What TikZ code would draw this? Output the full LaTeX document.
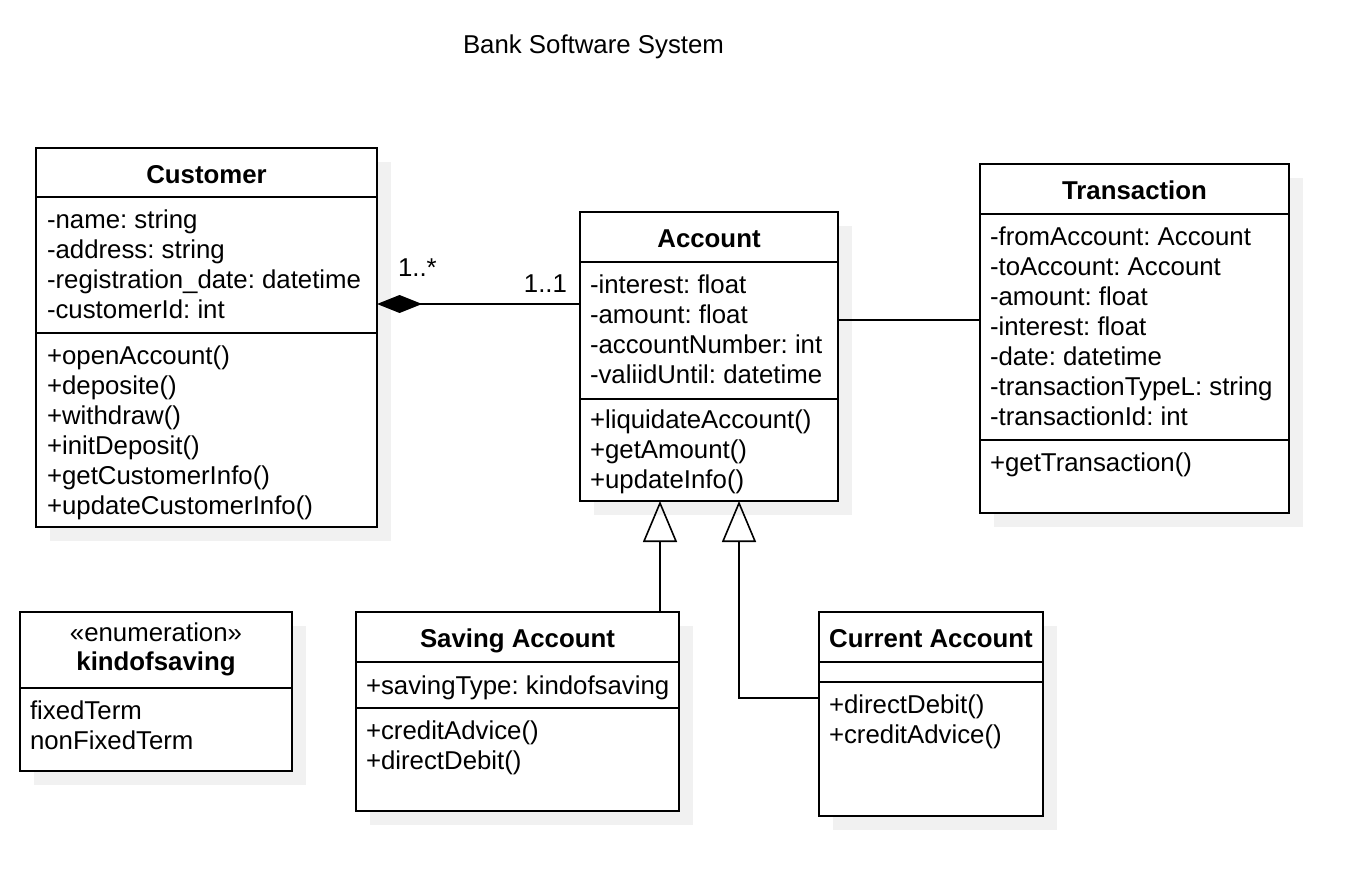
\documentclass[tikz,border=0pt]{standalone}
\usepackage{fontspec}
\setmainfont{Liberation Sans}
\usetikzlibrary{arrows.meta,shadows}
\definecolor{shadowgray}{HTML}{F1F1F1}
\frenchspacing
\begin{document}
\frenchspacing
\begin{tikzpicture}[x=1pt,y=-1pt,
  every node/.style={font=\fontsize{25.8}{30}\selectfont\frenchspacing, inner sep=0pt, outer sep=0pt},
  cls/.style={draw, line width=1.6pt, fill=white, rectangle, anchor=north west,
    drop shadow={shadow xshift=14pt, shadow yshift=-14pt, fill=shadowgray, opacity=1}},
  txt/.style={yshift=-1.5pt},
  hdr/.style={txt, anchor=base, font=\fontsize{25.8}{30}\selectfont\bfseries},
  item/.style={txt, anchor=base west},
  div/.style={line width=1.6pt},
  conn/.style={line width=1.6pt},
  gen/.style={conn, -{Triangle[open, length=41pt, width=34pt]}},
  comp/.style={conn, {Diamond[length=45pt, width=18pt]}-}]
\fill[white] (0,0) rectangle (1368,896);
\useasboundingbox (0,0) rectangle (1368,896);

% title
\node[txt, anchor=base] (title) at (593.5,52) {Bank Software System};

% Customer
\node[cls, minimum width=341pt, minimum height=379pt] (cust) at (36,148) {};
\draw[div] (36,197) -- (377,197);
\draw[div] (36,333) -- (377,333);
\node[hdr] (custH) at (206.5,182) {Customer};
\foreach \t [count=\i from 0] in {{-name: string},{-address: string},{-registration\_date: datetime},{-customerId: int}}
  \node[item] (custA\i) at (47,{227+30*\i}) {\t};
\foreach \t [count=\i from 0] in {{+openAccount()},{+deposite()},{+withdraw()},{+initDeposit()},{+getCustomerInfo()},{+updateCustomerInfo()}}
  \node[item] (custM\i) at (47,{363+30*\i}) {\t};

% Account
\node[cls, minimum width=258pt, minimum height=289pt] (acc) at (580,212) {};
\draw[div] (580,262) -- (838,262);
\draw[div] (580,399) -- (838,399);
\node[hdr] (accH) at (709,246) {Account};
\foreach \t [count=\i from 0] in {{-interest: float},{-amount: float},{-accountNumber: int},{-valiidUntil: datetime}}
  \node[item] (accA\i) at (590,{292+30*\i}) {\t};
\foreach \t [count=\i from 0] in {{+liquidateAccount()},{+getAmount()},{+updateInfo()}}
  \node[item] (accM\i) at (590,{427+30*\i}) {\t};

% Transaction
\node[cls, minimum width=309pt, minimum height=349pt] (tr) at (980,164) {};
\draw[div] (980,214) -- (1289,214);
\draw[div] (980,440) -- (1289,440);
\node[hdr] (trH) at (1134.5,198) {Transaction};
\foreach \t [count=\i from 0] in {{-fromAccount: Account},{-toAccount: Account},{-amount: float},{-interest: float},{-date: datetime},{-transactionTypeL: string},{-transactionId: int}}
  \node[item] (trA\i) at (990,{244+30*\i}) {\t};
\node[item] (trM0) at (990,470) {+getTransaction()};

% kindofsaving
\node[cls, minimum width=272pt, minimum height=159pt] (kind) at (20,612) {};
\draw[div] (20,688) -- (292,688);
\node[txt, anchor=base] (kindS) at (156,640) {«enumeration»};
\node[hdr] (kindH) at (156,669) {kindofsaving};
\node[item] (kindA0) at (30,718) {fixedTerm};
\node[item] (kindA1) at (30,748) {nonFixedTerm};

% Saving Account
\node[cls, minimum width=323pt, minimum height=199pt] (sav) at (356,612) {};
\draw[div] (356,662) -- (679,662);
\draw[div] (356,708) -- (679,708);
\node[hdr] (savH) at (517.5,646) {Saving Account};
\node[item] (savA0) at (366,693) {+savingType: kindofsaving};
\node[item] (savM0) at (366,738) {+creditAdvice()};
\node[item] (savM1) at (366,768) {+directDebit()};

% Current Account
\node[cls, minimum width=224pt, minimum height=204pt] (cur) at (819,612) {};
\draw[div] (819,662) -- (1043,662);
\draw[div] (819,682) -- (1043,682);
\node[hdr] (curH) at (931,646) {Current Account};
\node[item] (curM0) at (829,712) {+directDebit()};
\node[item] (curM1) at (829,742) {+creditAdvice()};

% connectors
\coordinate (c1) at (0,304);
\coordinate (c2) at (0,320);
\coordinate (c3) at (660,0);
\coordinate (c4) at (739,698);
\draw[comp] (cust.east |- c1) -- (acc.west |- c1);
\node[txt, anchor=base west] (m1) at (398,275) {1..*};
\node[txt, anchor=base east] (m2) at (567,291) {1..1};
\draw[conn] (acc.east |- c2) -- (tr.west |- c2);
\draw[gen] (sav.north -| c3) -- (acc.south -| c3);
\draw[gen] (cur.west |- c4) -| (acc.south -| c4);
\end{tikzpicture}
\end{document}
